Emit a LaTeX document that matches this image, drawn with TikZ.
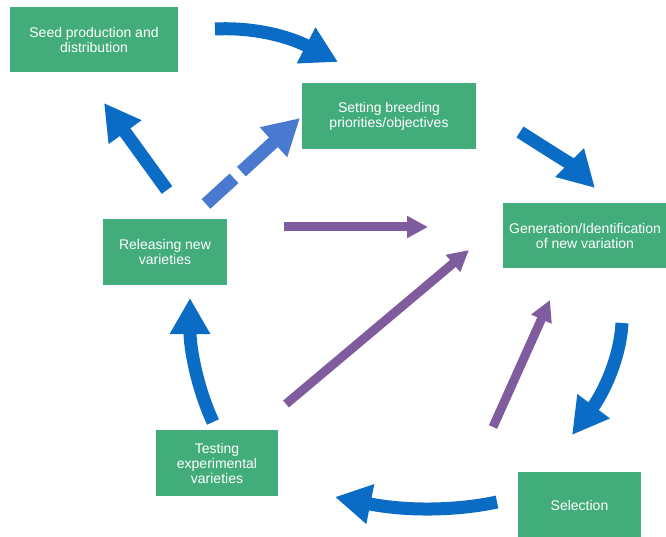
\documentclass[tikz,border=0pt]{standalone}
\usepackage{fontspec}
\setmainfont{Liberation Sans}
\usepackage{xcolor}
\usetikzlibrary{arrows.meta}

\definecolor{boxgreen}{HTML}{42AD7B}
\definecolor{flowblue}{HTML}{0A6CC4}
\definecolor{dashblue}{HTML}{4A7ACF}
\definecolor{linkpurple}{HTML}{7F5C9E}

\tikzset{
    stage/.style={fill=boxgreen, text=white, inner sep=0pt, align=center,
        minimum height=66pt, font=\fontsize{14}{15}\selectfont},
    flow/.style={draw=flowblue, line width=13pt, -{Triangle[width=38pt,length=36pt]}},
    link/.style={draw=linkpurple, line width=9pt, -{Triangle[width=21pt,length=21pt]}},
}

\begin{document}
\begin{tikzpicture}[x=1pt,y=-1pt]
    \useasboundingbox (0,0) rectangle (666,537);
    % the six stages
    \node[stage, minimum width=168pt, minimum height=65pt] (seed) at (94,39.5) {Seed production and\\distribution};
    \node[stage, minimum width=174pt] (setting) at (389,116) {Setting breeding\\priorities/objectives};
    \node[stage, minimum width=164pt, minimum height=65pt] (generation) at (585,235.5) {Generation/Identification\\of new variation};
    \node[stage, minimum width=124pt] (releasing) at (165,252) {Releasing new\\varieties};
    \node[stage, minimum width=122pt] (testing) at (217,463) {Testing\\experimental\\varieties};
    \node[stage, minimum width=123pt] (selection) at (579.5,505) {Selection};
    % free ends of the arrows
    \coordinate (a1) at (215,29);   \coordinate (b1) at (338,62);
    \coordinate (a2) at (520,132);  \coordinate (b2) at (595,188);
    \coordinate (a3) at (622,323);  \coordinate (b3) at (572,435);
    \coordinate (a4) at (497,502);  \coordinate (b4) at (335,497);
    \coordinate (a5) at (213,422);  \coordinate (b5) at (190,298);
    \coordinate (a6) at (167,190);  \coordinate (b6) at (104,103);
    \coordinate (a7) at (206,204);  \coordinate (b7) at (300,118);
    \coordinate (p1) at (284,227);  \coordinate (q1) at (428,227);
    \coordinate (p2) at (286,404);  \coordinate (q2) at (469,250);
    \coordinate (p3) at (493,427);  \coordinate (q3) at (550,300);
    % main cycle
    \draw[flow] (a1) .. controls (255,27) and (290,37) .. (b1);
    \draw[flow] (a2) .. controls (545,148) and (572,165) .. (b2);
    \draw[flow] (a3) .. controls (620,360) and (602,395) .. (b3);
    \draw[flow] (a4) .. controls (460,510) and (410,512) .. (b4);
    \draw[flow] (a5) .. controls (198,390) and (190,350) .. (b5);
    \draw[flow] (a6) -- (b6);
    \draw[flow, draw=dashblue, dash pattern=on 38pt off 10pt on 80pt] (a7) -- (b7);
    % links back to variation
    \draw[link] (p1) -- (q1);
    \draw[link] (p2) -- (q2);
    \draw[link] (p3) -- (q3);
\end{tikzpicture}
\end{document}
